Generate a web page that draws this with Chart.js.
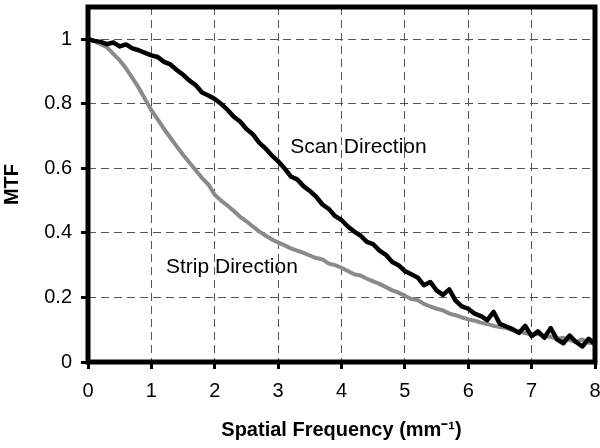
<!DOCTYPE html>
<html>
<head>
<meta charset="utf-8">
<script src="https://cdn.jsdelivr.net/npm/chart.js@4/dist/chart.umd.min.js"></script>
<style>
  html, body { margin: 0; padding: 0; background: #fff; }
  #chart { display: block; }
</style>
</head>
<body>
<canvas id="chart" width="600" height="448"></canvas>
<script>
// ── data ──
const FREQ = [
  0.0, 0.1, 0.2, 0.3, 0.4, 0.5, 0.6, 0.7, 0.8, 0.9,
  1.0, 1.1, 1.2, 1.3, 1.4, 1.5, 1.6, 1.7, 1.8, 1.9,
  2.0, 2.1, 2.2, 2.3, 2.4, 2.5, 2.6, 2.7, 2.8, 2.9,
  3.0, 3.1, 3.2, 3.3, 3.4, 3.5, 3.6, 3.7, 3.8, 3.9,
  4.0, 4.1, 4.2, 4.3, 4.4, 4.5, 4.6, 4.7, 4.8, 4.9,
  5.0, 5.1, 5.2, 5.3, 5.4, 5.5, 5.6, 5.7, 5.8, 5.9,
  6.0, 6.1, 6.2, 6.3, 6.4, 6.5, 6.6, 6.7, 6.8, 6.9,
  7.0, 7.1, 7.2, 7.3, 7.4, 7.5, 7.6, 7.7, 7.8, 7.9,
  8.0
];

const SCAN_MTF = [
  1.000, 0.995, 0.992, 0.985, 0.990, 0.978, 0.984, 0.972, 0.966, 0.958,
  0.950, 0.945, 0.930, 0.922, 0.905, 0.890, 0.872, 0.858, 0.835, 0.826,
  0.815, 0.800, 0.782, 0.760, 0.745, 0.722, 0.706, 0.680, 0.662, 0.640,
  0.622, 0.600, 0.575, 0.566, 0.545, 0.530, 0.512, 0.488, 0.474, 0.452,
  0.440, 0.420, 0.404, 0.392, 0.372, 0.365, 0.345, 0.332, 0.310, 0.300,
  0.282, 0.272, 0.262, 0.238, 0.248, 0.222, 0.208, 0.225, 0.190, 0.172,
  0.165, 0.150, 0.142, 0.130, 0.155, 0.118, 0.110, 0.102, 0.090, 0.112,
  0.080, 0.095, 0.075, 0.105, 0.070, 0.058, 0.082, 0.062, 0.048, 0.072,
  0.055
];

const STRIP_MTF = [
  1.000, 0.995, 0.985, 0.975, 0.955, 0.935, 0.910, 0.880, 0.850, 0.815,
  0.780, 0.752, 0.722, 0.695, 0.668, 0.642, 0.618, 0.594, 0.570, 0.550,
  0.518, 0.500, 0.485, 0.468, 0.450, 0.436, 0.420, 0.405, 0.392, 0.380,
  0.370, 0.362, 0.352, 0.345, 0.338, 0.330, 0.322, 0.318, 0.305, 0.300,
  0.292, 0.282, 0.272, 0.268, 0.258, 0.250, 0.242, 0.232, 0.222, 0.215,
  0.205, 0.195, 0.192, 0.180, 0.172, 0.165, 0.160, 0.150, 0.145, 0.138,
  0.132, 0.128, 0.122, 0.118, 0.112, 0.108, 0.105, 0.098, 0.095, 0.090,
  0.085, 0.088, 0.080, 0.078, 0.072, 0.075, 0.068, 0.062, 0.070, 0.060,
  0.058
];

const X_TICKS = [0, 1, 2, 3, 4, 5, 6, 7, 8];
const Y_TICKS = [0, 0.2, 0.4, 0.6, 0.8, 1];

// curve labels: [text, x, y] in data units (left edge, vertical middle)
const LABELS = [
  ['Scan Direction', 3.19, 0.667],
  ['Strip Direction', 1.23, 0.294],
];

const FONT = "'Liberation Sans', Arial, sans-serif";

const toPoints = ys => ys.map((y, i) => ({ x: FREQ[i], y }));

// frame around plot area + curve labels
const framePlugin = {
  id: 'frame',
  afterDatasetsDraw(chart) {
    const { ctx, chartArea: a, scales } = chart;
    ctx.save();
    ctx.fillStyle = '#000';
    ctx.font = `21px ${FONT}`;
    ctx.textAlign = 'left';
    ctx.textBaseline = 'middle';
    for (const [text, x, y] of LABELS) {
      ctx.fillText(text, scales.x.getPixelForValue(x), scales.y.getPixelForValue(y));
    }
    ctx.strokeStyle = '#000';
    ctx.lineWidth = 5;
    ctx.strokeRect(a.left, a.top, a.right - a.left, a.bottom - a.top);
    ctx.restore();
  },
};

const gridOpts = {
  color: '#555',
  lineWidth: 1,
  tickLength: 7,
  tickWidth: 3,
  tickColor: '#000',
};

new Chart(document.getElementById('chart'), {
  type: 'line',
  data: {
    datasets: [
      {
        label: 'Scan Direction',
        data: toPoints(SCAN_MTF),
        borderColor: '#000',
        borderWidth: 4.5,
        pointRadius: 0,
        tension: 0,
        borderJoinStyle: 'round',
        borderCapStyle: 'round',
      },
      {
        label: 'Strip Direction',
        data: toPoints(STRIP_MTF),
        borderColor: '#8a8a8a',
        borderWidth: 4,
        pointRadius: 0,
        tension: 0,
        borderJoinStyle: 'round',
        borderCapStyle: 'round',
      },
    ],
  },
  options: {
    responsive: false,
    animation: false,
    events: [],
    layout: { padding: { left: 0, right: 5, top: 7, bottom: 0 } },
    plugins: { legend: { display: false }, tooltip: { enabled: false } },
    scales: {
      x: {
        type: 'linear',
        min: 0,
        max: 8,
        afterBuildTicks: s => { s.ticks = X_TICKS.map(v => ({ value: v })); },
        afterFit: s => { s.height = 86; s.paddingLeft = 0; s.paddingRight = 0; },
        grid: gridOpts,
        border: { display: false, dash: [8, 5] },
        ticks: { color: '#000', padding: 10, font: { family: FONT, size: 20 } },
        title: {
          display: true,
          text: 'Spatial Frequency (mm\u207B\u00B9)',
          color: '#000',
          font: { family: FONT, size: 20, weight: 'bold' },
          padding: { top: 0, bottom: 6 },
        },
      },
      y: {
        type: 'linear',
        min: 0,
        max: 1.1,
        afterBuildTicks: s => { s.ticks = Y_TICKS.map(v => ({ value: v })); },
        afterFit: s => { s.width = 88; s.paddingTop = 0; s.paddingBottom = 0; },
        grid: gridOpts,
        border: { display: false, dash: [8, 5] },
        ticks: { color: '#000', padding: 9, font: { family: FONT, size: 20 }, callback: v => String(v) },
        title: {
          display: true,
          text: 'MTF',
          color: '#000',
          font: { family: FONT, size: 20, weight: 'bold' },
          padding: { top: 0, bottom: 0 },
        },
      },
    },
  },
  plugins: [framePlugin],
});
</script>
</body>
</html>
